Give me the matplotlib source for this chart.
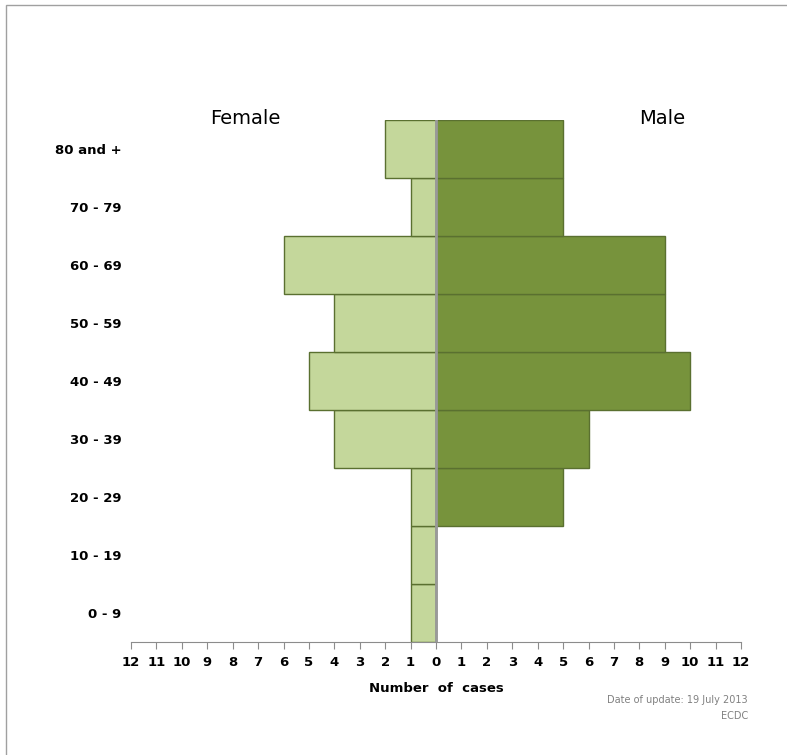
import numpy as np
import matplotlib.pyplot as plt
from matplotlib.patches import Rectangle

# Age groups, bottom to top
ages = ['0 - 9', '10 - 19', '20 - 29', '30 - 39', '40 - 49', '50 - 59', '60 - 69', '70 - 79', '80 and +']
female = [1, 1, 1, 4, 5, 4, 6, 1, 2]
male = [0, 0, 5, 6, 10, 9, 9, 5, 5]
xticks = list(range(-12, 13))
xlabels = [str(abs(v)) for v in xticks]

c_fem = '#c4d79b'
c_male = '#77933c'
c_edge = '#5a7030'

fig = plt.figure(figsize=(7.87, 7.55), dpi=100)
ax = fig.add_axes([131/787, 1 - 642/755, 610/787, 522/755])

y = np.arange(len(ages))
ax.barh(y, -np.array(female), height=1.0, color=c_fem, edgecolor=c_edge, linewidth=1)
ax.barh(y, male, height=1.0, color=c_male, edgecolor=c_edge, linewidth=1)
ax.axvline(0, color='#999999', linewidth=2, zorder=5)

ax.set_xlim(-12, 12)
ax.set_ylim(-0.5, len(ages) - 0.5)
ax.set_xticks(xticks)
ax.set_xticklabels(xlabels, fontsize=9.5, fontweight='bold')
ax.set_yticks(y)
ax.set_yticklabels(ages, fontsize=9.5, fontweight='bold')
ax.tick_params(axis='y', length=0, pad=7)
ax.tick_params(axis='x', length=5, color='#8c8c8c', pad=5)

for side in ['top', 'right', 'left']:
    ax.spines[side].set_visible(False)
ax.spines['bottom'].set_color('#8c8c8c')

ax.text(-7.5, len(ages) - 0.57, 'Female', fontsize=14, ha='center', va='baseline')
ax.text(8.9, len(ages) - 0.57, 'Male', fontsize=14, ha='center', va='baseline')

fig.text(436/787, 1 - 689/755, 'Number  of  cases', fontsize=9.5, fontweight='bold',
         ha='center', va='center')
fig.text(748/787, 1 - 700/755, 'Date of update: 19 July 2013', fontsize=7, color='#808080',
         ha='right', va='center')
fig.text(748/787, 1 - 716/755, 'ECDC', fontsize=7, color='#808080', ha='right', va='center')

# outer frame
fig.patches.append(Rectangle((6/787, -0.1), 1.2, 1 - 5/755 + 0.1, transform=fig.transFigure,
                             fill=False, edgecolor='#a0a0a0', linewidth=1))

plt.savefig('out.png', dpi=100)
